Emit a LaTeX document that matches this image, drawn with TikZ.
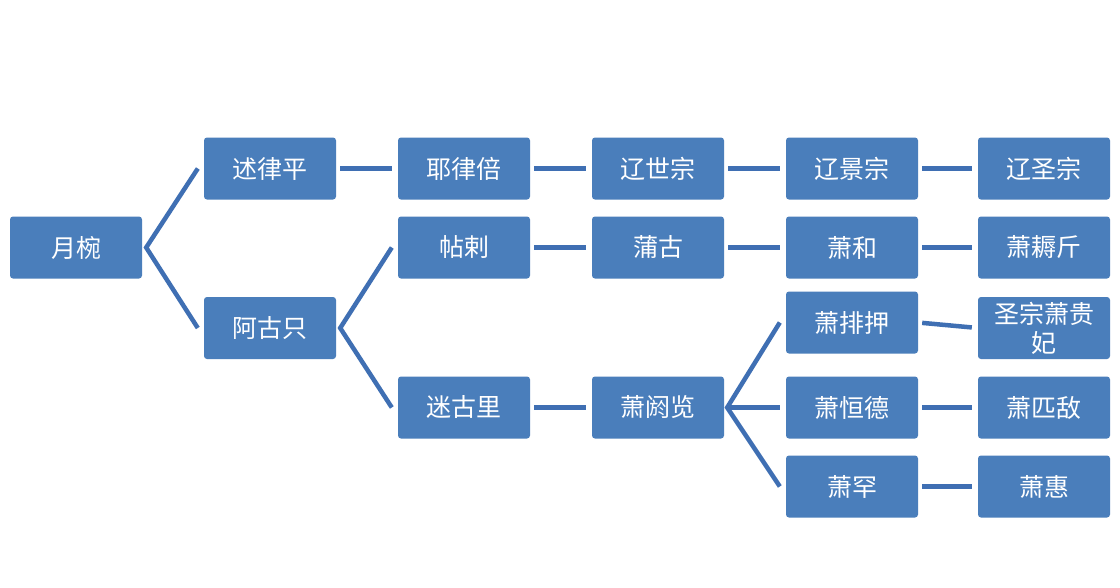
\documentclass[tikz,border=0pt]{standalone}
\usepackage{fontspec}
\setmainfont{Noto Sans CJK SC}
\definecolor{boxblue}{HTML}{4A7EBB}
\definecolor{lineblue}{HTML}{3F6FB3}
\begin{document}
\begin{tikzpicture}[x=1pt,y=-1pt,
  person/.style={draw=none,fill=boxblue,rounded corners=3pt,minimum width=132pt,minimum height=62pt,
    inner sep=1pt,text=white,font=\fontsize{25}{29}\selectfont,align=center},
  link/.style={draw=lineblue,line width=4.5pt},
  fork/.style={draw=lineblue,line width=4.5pt,line join=miter}]
\useasboundingbox (0,0) rectangle (1120,587);
\fill[white] (0,0) rectangle (1120,587);
\node[person] (yue) at (76,247.5) {月椀};
\node[person] (shulu) at (270,168.5) {述律平};
\node[person] (agu) at (270,328) {阿古只};
\node[person] (yelv) at (464,168.5) {耶律倍};
\node[person] (tie) at (464,247.5) {帖剌};
\node[person] (migu) at (464,407.5) {迷古里};
\node[person] (shizong) at (658,168.5) {辽世宗};
\node[person] (pugu) at (658,247.5) {蒲古};
\node[person] (yan) at (658,407.5) {萧阏览};
\node[person] (jing) at (852,168.5) {辽景宗};
\node[person] (he) at (852,247.5) {萧和};
\node[person] (paiya) at (852,322.5) {萧排押};
\node[person] (hengde) at (852,407.5) {萧恒德};
\node[person] (han) at (852,486.5) {萧罕};
\node[person] (sheng) at (1044,168.5) {辽圣宗};
\node[person] (nou) at (1044,247.5) {萧耨斤};
\node[person] (gui) at (1044,328) {圣宗萧贵\\妃};
\node[person] (pidi) at (1044,407.5) {萧匹敌};
\node[person] (hui) at (1044,486.5) {萧惠};
% forks
\coordinate (f1) at ([xshift=4pt]yue.east);
\coordinate (f2) at ([xshift=4pt]agu.east);
\coordinate (f3) at ([xshift=3pt]yan.east);
\draw[fork] ([xshift=-6pt]shulu.west) -- (f1) -- ([xshift=-6pt]agu.west);
\draw[fork] ([xshift=-6pt]tie.west) -- (f2) -- ([xshift=-6pt]migu.west);
\draw[fork] ([xshift=-6pt]paiya.west) -- (f3) -- ([xshift=-6pt]han.west);
\draw[link] (f3) -- ([xshift=-6pt]hengde.west);
% straight links
\foreach \a/\b in {shulu/yelv,yelv/shizong,shizong/jing,jing/sheng,tie/pugu,pugu/he,he/nou,migu/yan,paiya/gui,hengde/pidi,han/hui}
  \draw[link,shorten <=4pt,shorten >=6pt] (\a.east) -- (\b.west);
\end{tikzpicture}
\end{document}
